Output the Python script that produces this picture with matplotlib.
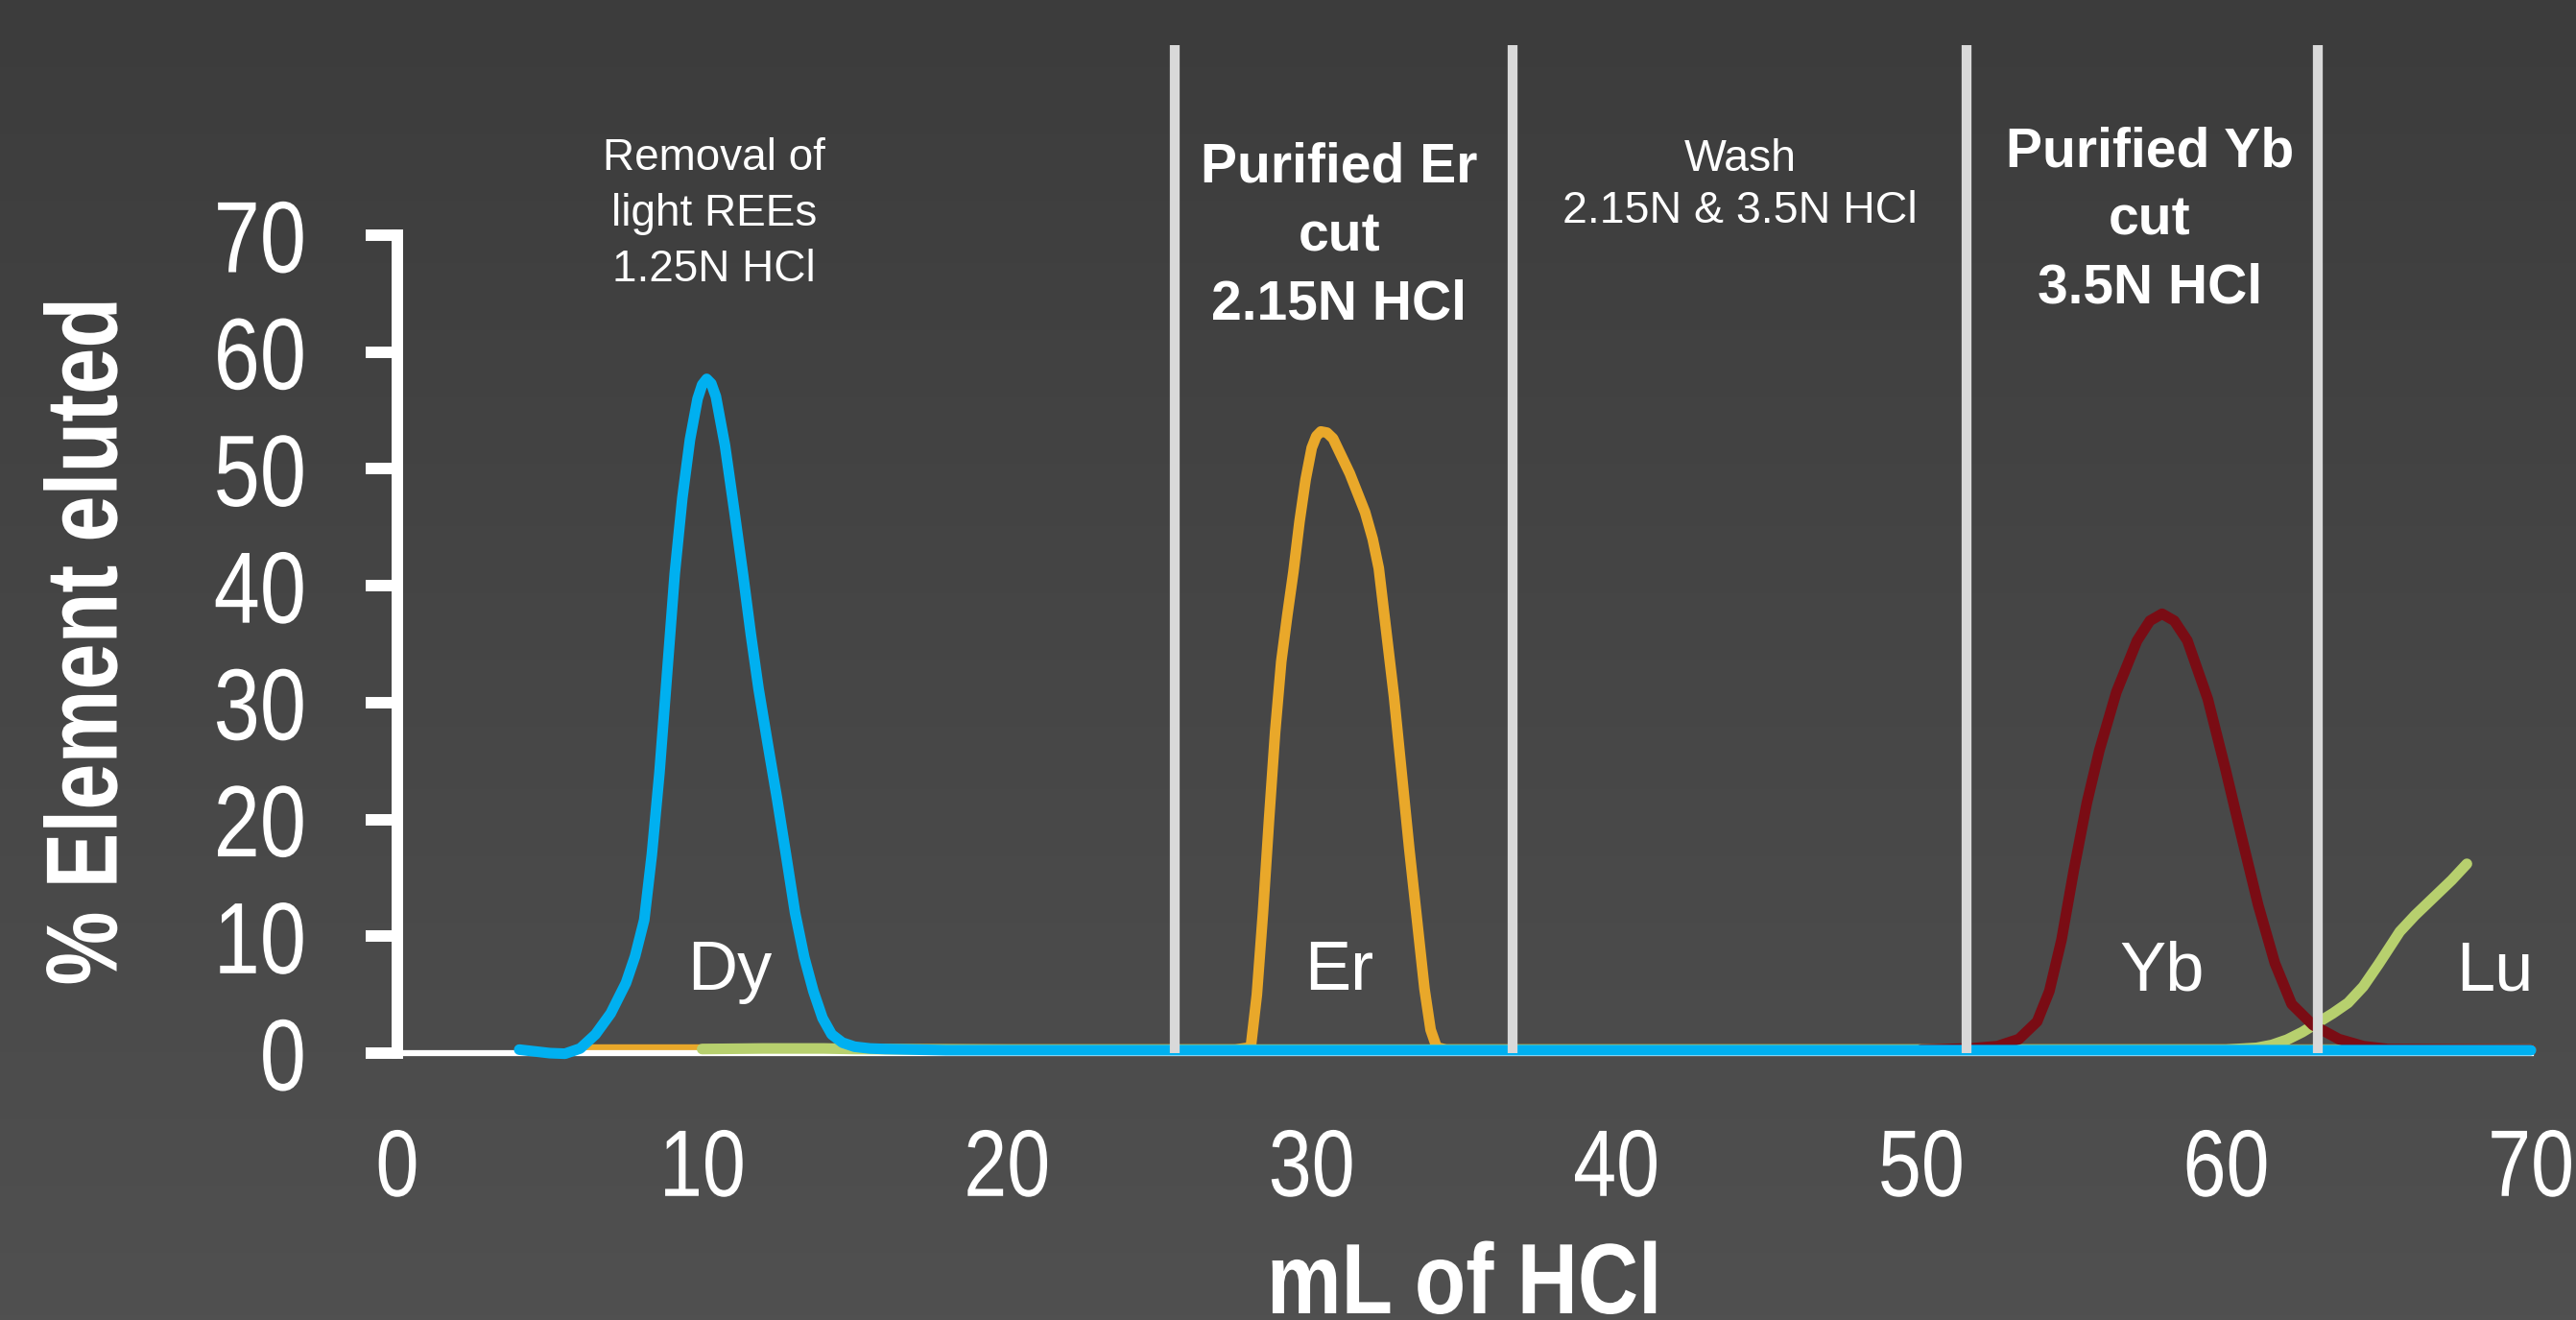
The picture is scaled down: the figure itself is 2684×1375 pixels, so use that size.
import numpy as np
import matplotlib
matplotlib.use('Agg')
import matplotlib.pyplot as plt
from matplotlib.patheffects import AbstractPathEffect
from matplotlib.transforms import Affine2D

# elution curves, % of element eluted vs mL of HCl
dy_x = [4.0, 4.5, 5.0, 5.5, 6.0, 6.5, 7.0, 7.5, 7.8, 8.1, 8.35, 8.6, 8.85, 9.1, 9.35, 9.6, 9.85,
        10.0, 10.15, 10.3, 10.45, 10.75, 11.05, 11.35, 11.6, 11.85, 12.15, 12.45, 12.75, 13.05,
        13.35, 13.65, 13.95, 14.25, 14.6, 15.0, 15.5, 16, 17, 18, 20, 30, 40, 50, 60, 70]
dy_y = [0.3, 0.15, 0.0, -0.05, 0.4, 1.6, 3.4, 6.0, 8.3, 11.4, 17, 24, 32.5, 41, 47.5, 52.5, 56,
        57.2, 57.7, 57.3, 56.2, 52, 46.5, 40.8, 35.8, 31.2, 26.5, 21.9, 17, 12.0,
        8.2, 5.3, 3.0, 1.6, 0.9, 0.55, 0.4, 0.35, 0.3, 0.25, 0.25, 0.25, 0.25, 0.25, 0.25, 0.25]

er_x = [6, 10, 15, 20, 25, 27.5, 28.0, 28.2, 28.4, 28.6, 28.8, 29.0, 29.2, 29.4, 29.6, 29.8, 30.0,
        30.15, 30.3, 30.5, 30.7, 31.25, 31.75, 32.0, 32.2, 32.45, 32.7, 32.95, 33.2, 33.45, 33.7,
        33.9, 34.1, 34.4, 40, 50, 60, 70]
er_y = [0.3, 0.3, 0.3, 0.3, 0.3, 0.3, 0.5, 5, 12, 20, 27.5, 33.5, 37.5, 41.2, 45.5, 49.1, 51.8,
        52.8, 53.2, 53.1, 52.6, 49.6, 46.3, 44, 41.5, 36, 30.5, 24, 17.5, 11.5, 5.5,
        2, 0.5, 0.3, 0.3, 0.3, 0.3, 0.3]

yb_x = [50, 51.6, 52.5, 53.2, 53.8, 54.2, 54.6, 55.0, 55.43, 55.84, 56.4, 57.08, 57.5, 57.9,
        58.3, 58.73, 59.4, 59.97, 60.5, 61.05, 61.6, 62.15, 62.85, 63.7, 64.5, 65.3, 70]
yb_y = [0.3, 0.4, 0.6, 1.2, 2.7, 5.3, 9.7, 15.6, 21.4, 25.9, 30.9, 35.3, 37, 37.6,
        37, 35.3, 30.3, 24.4, 18.6, 12.7, 7.7, 4.2, 2.4, 1.2, 0.6, 0.35, 0.3]

lu_x = [10, 12, 14, 15, 20, 30, 40, 50, 60, 61, 61.5, 62, 62.5, 63, 63.5, 64, 64.5, 65, 65.4,
        65.7, 66.2, 66.8, 67.4, 67.9]
lu_y = [0.35, 0.4, 0.4, 0.35, 0.3, 0.3, 0.3, 0.3, 0.3, 0.45, 0.7, 1.15, 1.8, 2.6, 3.4, 4.3, 5.7,
        7.6, 9.2, 10.4, 11.8, 13.3, 14.8, 16.2]

# fraction cut boundaries (mL)
cut_lines = [25.5, 36.6, 51.5, 63.0]

SANS = ['Liberation Sans', 'DejaVu Sans']


class Narrow(AbstractPathEffect):
    """squeeze glyphs sideways, the axis text is set in a narrow face"""
    def __init__(self, sx=0.82, anchor='center'):
        super().__init__()
        self.sx = sx
        self.anchor = anchor

    def draw_path(self, renderer, gc, tpath, affine, rgbFace=None):
        ext = tpath.get_extents()
        x0 = {'left': ext.x0, 'center': 0.5 * (ext.x0 + ext.x1), 'right': ext.x1}[self.anchor]
        squeeze = Affine2D().translate(-x0, 0).scale(self.sx, 1).translate(x0, 0)
        renderer.draw_path(gc, tpath, squeeze + affine, rgbFace)


fig = plt.figure(figsize=(26.84, 13.75), dpi=100)

# dark slide background, slightly lighter towards the bottom
bg = fig.add_axes([0, 0, 1, 1], zorder=-10)
grad = np.linspace(60, 80, 256) / 255.0
bg.imshow(np.dstack([grad[:, None]] * 3), aspect='auto', extent=[0, 1, 0, 1])
bg.axis('off')

ax = fig.add_axes([0.15425, 0.20218, 0.82824, 0.61964])
ax.set_facecolor('none')

lw = 8
kw = dict(lw=lw, solid_capstyle='round', solid_joinstyle='round', clip_on=False)
ax.plot(er_x, er_y, color='#e9a82a', zorder=2, **kw)
ax.plot(lu_x, lu_y, color='#b7d06e', zorder=3, **kw)
ax.plot(yb_x, yb_y, color='#7a0c14', zorder=4, **kw)
ax.plot(dy_x, dy_y, color='#00b0f0', zorder=5, **kw)

ax.vlines(cut_lines, 0, 86.3, colors='#d9d9d9', lw=7.4, clip_on=False, zorder=6)

ax.set_xlim(0, 70)
ax.set_ylim(0, 70)
ax.set_xticks(range(0, 71, 10))
ax.set_yticks(range(0, 71, 10))

for s in ['top', 'right']:
    ax.spines[s].set_visible(False)
ax.spines['left'].set_color('white')
ax.spines['left'].set_linewidth(8.6)
ax.spines['bottom'].set_color('white')
ax.spines['bottom'].set_linewidth(4.5)

ax.tick_params(axis='y', direction='out', length=24, width=8.6, color='white', pad=44,
               labelcolor='white', labelsize=76)
ax.tick_params(axis='x', length=0, pad=56, labelcolor='white', labelsize=71)
for lab in ax.get_xticklabels():
    lab.set_family(SANS)
    lab.set_path_effects([Narrow(0.82, 'center')])
for lab in ax.get_yticklabels():
    lab.set_family(SANS)
    lab.set_path_effects([Narrow(0.82, 'right')])

fig.text(94 / 2684, 1 - 668 / 1375, '% Element eluted', rotation=90, ha='center', va='center',
         color='white', fontsize=76, fontweight='bold', family=SANS,
         path_effects=[Narrow(0.82, 'center')])
fig.text(0.5684, 7 / 1375, 'mL of HCl', ha='center', va='baseline',
         color='white', fontsize=75, fontweight='bold', family=SANS,
         path_effects=[Narrow(0.84, 'center')])

# element labels
for name, xx in [('Dy', 10.9), ('Er', 30.9), ('Yb', 57.9), ('Lu', 68.8)]:
    ax.text(xx, 5.4, name, ha='center', va='baseline', color='white', fontsize=52, family=SANS)

# fraction annotations
ax.text(10.4, 78.4, 'Removal of\nlight REEs\n1.25N HCl', ha='center', va='top', color='white',
        fontsize=33, family=SANS, linespacing=1.42)
ax.text(44.05, 78.3, 'Wash\n2.15N & 3.5N HCl', ha='center', va='top', color='white',
        fontsize=33.5, family=SANS, linespacing=1.3)
ax.text(30.9, 78.0, 'Purified Er\ncut\n2.15N HCl', ha='center', va='top', color='white',
        fontsize=41, fontweight='bold', family=SANS, linespacing=1.42)
ax.text(57.5, 79.3, 'Purified Yb\ncut\n3.5N HCl', ha='center', va='top', color='white',
        fontsize=41, fontweight='bold', family=SANS, linespacing=1.4)

fig.savefig('out.png', dpi=100)
